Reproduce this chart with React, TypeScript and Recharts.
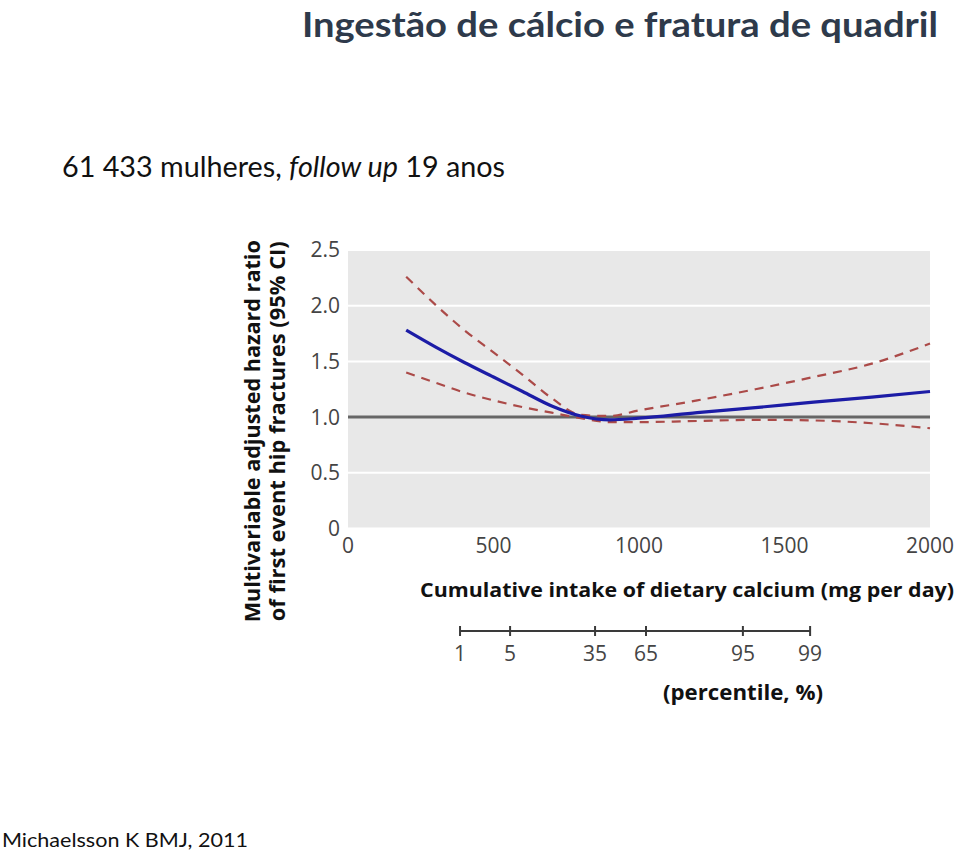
import { CartesianGrid, Label, Line, LineChart, ReferenceLine, XAxis, YAxis } from "recharts";

// dietary calcium (mg/day) and hazard ratios
const X_MG = [200, 300, 400, 500, 600, 700, 800, 900, 1000, 1200, 1400, 1600, 1800, 2000];
const HR_CENTRAL = [1.78, 1.63, 1.49, 1.36, 1.23, 1.1, 1.01, 0.975, 0.99, 1.04, 1.085, 1.135, 1.18, 1.23];
const HR_UPPER = [2.26, 2.01, 1.78, 1.58, 1.38, 1.17, 1.02, 1.01, 1.06, 1.15, 1.25, 1.36, 1.48, 1.66];
const HR_LOWER = [1.4, 1.31, 1.22, 1.15, 1.09, 1.04, 0.99, 0.955, 0.955, 0.965, 0.975, 0.97, 0.945, 0.9];

const Y_TICKS = [0, 0.5, 1, 1.5, 2, 2.5];
const X_TICKS = [0, 500, 1000, 1500, 2000];

// percentile scale shown under the axis (mg value of each percentile)
const PCT_MG = [385, 557, 849, 1024, 1357, 1588];
const PCT_LABELS = ["1", "5", "35", "65", "95", "99"];

const data = X_MG.map((mg, i) => ({
  mg,
  central: HR_CENTRAL[i],
  upper: HR_UPPER[i],
  lower: HR_LOWER[i],
}));

const W = 960;
const H = 855;
const MARGIN = { top: 250, right: 30, left: 288, bottom: 144 };
const Y_AXIS_W = 60;
const PLOT_W = W - MARGIN.left - MARGIN.right - Y_AXIS_W;
const X_MAX = 2000;

const tickFont = "'Open Sans', sans-serif";
const boldFont = "'Open Sans', sans-serif";

function PctTick(props: any) {
  const { x, y, index } = props;
  const span = ((PCT_MG[PCT_MG.length - 1] - PCT_MG[0]) * PLOT_W) / X_MAX;
  return (
    <g>
      {index === 0 && <line x1={x} y1={y} x2={x + span} y2={y} stroke="#3a3a3a" strokeWidth={2} />}
      <line x1={x} y1={y - 5} x2={x} y2={y + 5} stroke="#3a3a3a" strokeWidth={2} />
      <text x={x} y={y + 22} textAnchor="middle" dominantBaseline="central" fontSize={21} fill="#444" fontFamily={tickFont}>
        {PCT_LABELS[index]}
      </text>
    </g>
  );
}

export default function App() {
  return (
    <div style={{ position: "absolute", left: 0, top: 0, width: W, height: H, background: "#fff" }}>
      <LineChart width={W} height={H} data={data} margin={MARGIN} style={{ position: "absolute", left: 0, top: 0 }}>
        <CartesianGrid xAxisId="main" vertical={false} stroke="#ffffff" strokeWidth={2} fill="#e8e8e8" />
        <XAxis
          xAxisId="main"
          dataKey="mg"
          type="number"
          domain={[0, X_MAX]}
          ticks={X_TICKS}
          axisLine={false}
          tickLine={false}
          tickSize={6}
          tickMargin={4}
          height={102.5}
          tick={{ fontSize: 21, fill: "#444", fontFamily: tickFont }}
        >
          <Label
            content={({ viewBox }: any) => (
              <text
                x={viewBox.x + 339}
                y={viewBox.y + 61}
                textAnchor="middle"
                dominantBaseline="central"
                fontSize={20}
                fontWeight={700}
                fill="#111"
                fontFamily={boldFont}
                textLength={534}
                lengthAdjust="spacingAndGlyphs"
              >
                Cumulative intake of dietary calcium (mg per day)
              </text>
            )}
          />
        </XAxis>
        <XAxis
          xAxisId="pct"
          dataKey="mg"
          type="number"
          domain={[0, X_MAX]}
          ticks={PCT_MG}
          axisLine={false}
          tickLine={false}
          tickSize={0}
          tickMargin={0}
          height={80}
          tick={<PctTick />}
        >
          <Label
            content={({ viewBox }: any) => (
              <text
                x={viewBox.x + 395}
                y={viewBox.y + 60}
                textAnchor="middle"
                dominantBaseline="central"
                fontSize={22}
                fontWeight={700}
                fill="#111"
                fontFamily={boldFont}
                textLength={160}
                lengthAdjust="spacingAndGlyphs"
              >
                (percentile, %)
              </text>
            )}
          />
        </XAxis>
        <YAxis
          type="number"
          domain={[0, 2.5]}
          ticks={Y_TICKS}
          width={Y_AXIS_W}
          axisLine={false}
          tickLine={false}
          tickSize={8}
          tickMargin={0}
          tickFormatter={(v: number) => (v === 0 ? "0" : v.toFixed(1))}
          tick={{ fontSize: 21, fill: "#444", fontFamily: tickFont }}
        >
          <Label
            content={({ viewBox }: any) => {
              const cy = viewBox.y + viewBox.height / 2 + 42;
              return (
                <g>
                  <text
                    transform={`translate(${viewBox.x - 36}, ${cy}) rotate(-90)`}
                    textAnchor="middle"
                    dominantBaseline="central"
                    fontSize={21}
                    fontWeight={700}
                    fill="#111"
                    fontFamily={boldFont}
                    textLength={382}
                    lengthAdjust="spacingAndGlyphs"
                  >
                    Multivariable adjusted hazard ratio
                  </text>
                  <text
                    transform={`translate(${viewBox.x - 11}, ${cy}) rotate(-90)`}
                    textAnchor="middle"
                    dominantBaseline="central"
                    fontSize={21}
                    fontWeight={700}
                    fill="#111"
                    fontFamily={boldFont}
                    textLength={380}
                    lengthAdjust="spacingAndGlyphs"
                  >
                    of first event hip fractures (95% CI)
                  </text>
                </g>
              );
            }}
          />
        </YAxis>
        <ReferenceLine xAxisId="main" y={1} stroke="#666" strokeWidth={3} />
        <Line xAxisId="main" type="monotone" dataKey="upper" stroke="#ab4a48" strokeWidth={2.2} strokeDasharray="9 7" dot={false} isAnimationActive={false} />
        <Line xAxisId="main" type="monotone" dataKey="lower" stroke="#ab4a48" strokeWidth={2.2} strokeDasharray="9 7" dot={false} isAnimationActive={false} />
        <Line xAxisId="main" type="monotone" dataKey="central" stroke="#1c1ca6" strokeWidth={3.2} dot={false} isAnimationActive={false} />
      </LineChart>
      <svg width={W} height={H} style={{ position: "absolute", left: 0, top: 0, pointerEvents: "none" }}>
        <text x={938} y={37} textAnchor="end" fontSize={35} fontWeight={700} fill="#2e3a4b" fontFamily="Lato, sans-serif" textLength={636} lengthAdjust="spacingAndGlyphs">
          Ingestão de cálcio e fratura de quadril
        </text>
        <text x={62} y={177} fontSize={29} fill="#111" fontFamily="Lato, sans-serif" textLength={443} lengthAdjust="spacingAndGlyphs">
          61 433 mulheres, <tspan fontStyle="italic">follow up</tspan> 19 anos
        </text>
        <text x={2} y={847} fontSize={19} fill="#111" fontFamily="Lato, sans-serif" textLength={246} lengthAdjust="spacingAndGlyphs">
          Michaelsson K BMJ, 2011
        </text>
      </svg>
    </div>
  );
}
